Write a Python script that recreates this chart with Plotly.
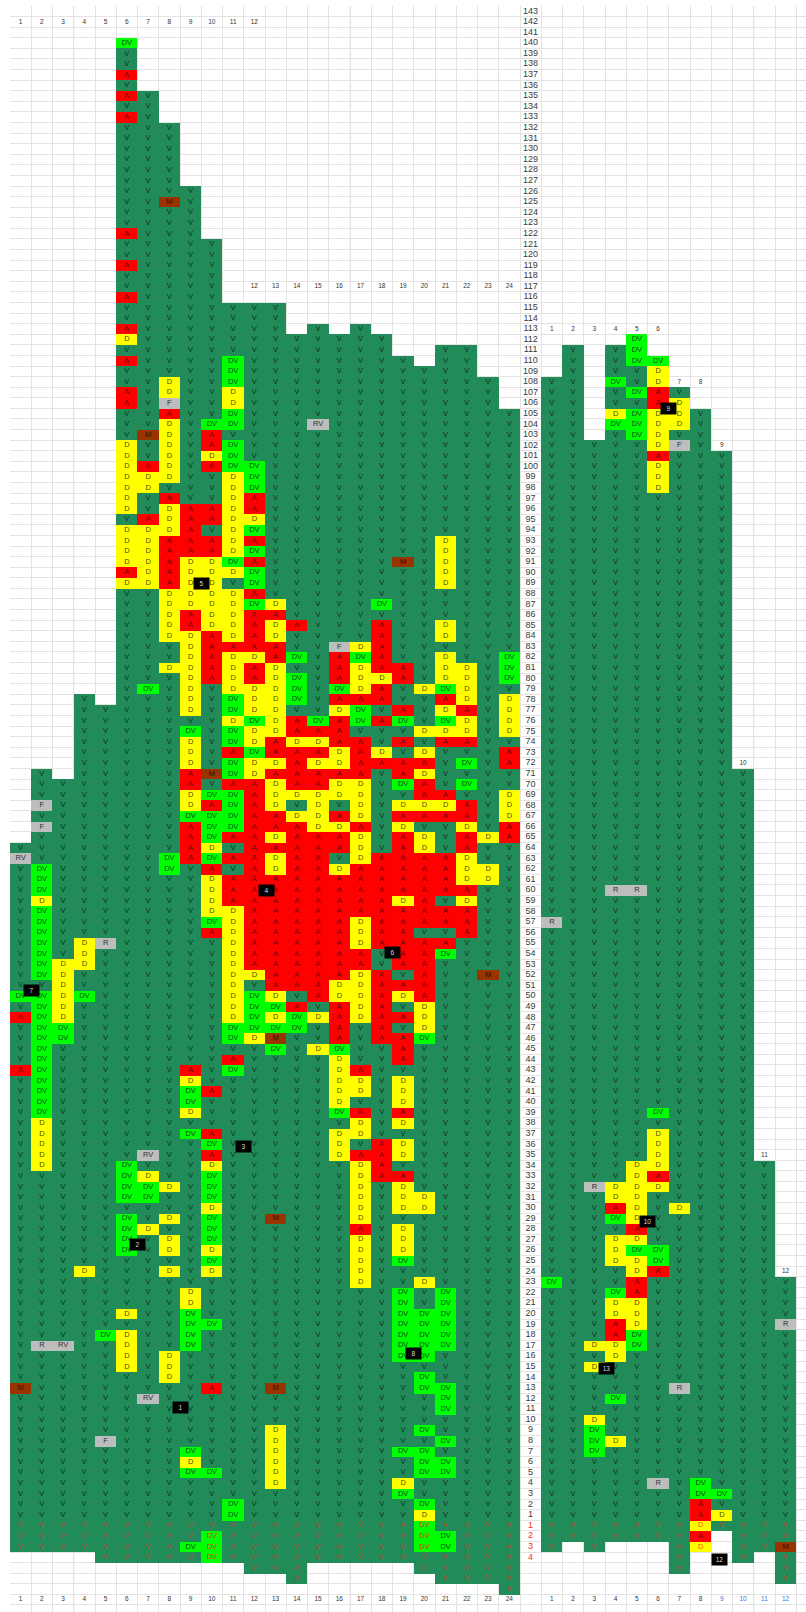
import re
import plotly.graph_objects as go

# ---- data: rows are the sheet's row numbers; negative rows are those printed in red below 1 ----
row_numbers = list(range(143, 0, -1)) + [-1, -2, -3, -4, -5, -6, -7]

left_tops = [64, 71, 70, 78, 77, 140, 135, 132, 126, 121, 115, 115, 115, 112, 113, 112, 113, 112, 110, 109, 111, 111, 108, 105]
left_bottoms = [-3, -3, -3, -3, -4, -4, -4, -4, -4, -4, -4, -5, -5, -6, -4, -4, -4, -4, -4, -5, -6, -6, -6, -7]
right_tops = [108, 111, 102, 111, 112, 110, 107, 105, 101, 71, 34, 23]
right_bottoms = [-3, -2, -3, -2, -2, -2, -5, -3, -1, -4, -3, -6]

left_cells = [
    "63RV 50DV 48A 43A 13M",
    "68F 66F 62..60DV 59D 58..52DV 50..39DV 38..34D 17R",
    "53..48D 47..46DV 17RV",
    "55..53D 50DV 24D",
    "55R 18DV 8F",
    "140DV 137A 135A 133A 122A 119A 116A 113A 112D 110A 107..106A 102..96D 94..91D 90A 89D 34..31DV 29..26DV 20D 18..15D",
    "103M 100A 99..98D 95A 94..89D 79DV 35RV 33D 32..31DV 28D 12RV",
    "125M 108..107D 106F 105A 104..99D 97A 96..94D 93..89A 88..84D 81D 63..62DV 32D 29D 27..26D 24D 16..14D",
    "96..92A 91..87D 86..85A 84..77D 75DV 74..72D 71..70A 69..68D 67DV 66..63A 43A 42D 41..40DV 39D 37DV 22..21D 20..17DV 7DV 6D 5DV -3DV",
    "104DV 103..102A 101D 100A 96..95A 93..92A 91..85D 84..80A 71M 69DV 68A 67..65DV 64D 63DV 62A 61..58D 57DV 56A 41A 37A 36DV 35A 34D 33..31DV 30D 29..27DV 26D 25DV 24D 19DV 13A 5DV -2..-4DV",
    "110..108DV 107..106D 105..104DV 102..100DV 99..92D 91DV 90D 88..84D 83A 82..79D 78..77DV 76D 75..74DV 73A 72..71DV 70A 69..66DV 65A 63A 61..59A 58..48D 47..46DV 44A 43DV 2..1DV",
    "100..98DV 97..96A 95D 94DV 93A 92DV 91A 90..89DV 88A 87DV 86..83A 82D 81..80A 79..77D 76DV 75..74D 73DV 72..71D 70..53A 52D 50..47DV 46D",
    "87D 86A 85..84D 83..82A 81..75D 74..73A 72D 71A 70..68D 67..66A 65D 64A 63..62D 61..51A 50D 49DV 48D 47DV 46M 45DV 29M 13M 9..4D",
    "85A 82DV 80..78DV 76..75A 74D 73..70A 69D 67D 66..51A 49A 48..47DV",
    "104RV 76DV 75A 74D 73A 72D 71..70A 69..66D 65..50A 48D 45D",
    "83F 82..80A 79DV 78A 77D 76..74A 73..72D 71A 70..69D 67A 66D 65..64A 62D 61..52A 51..50D 49..46A 45DV 44..40D 39DV 37..35D",
    "83D 82DV 81..79D 78A 77..76DV 74..71A 70..67D 66A 65..63D 62..58A 57..55D 54..53A 52..48D 43A 42..41D 39A 38..37D 35A 34..29D 28A 27..23D",
    "87DV 85..81A 80D 79..78A 76A 73D 72A 63..55A 52..46A 36..33A",
    "91M 81..80A 77A 76DV 74A 72..71A 70DV 68D 67A 66D 65..60A 59D 58..53A 51A 50D 48A 46..44A 42..40D 39A 38D 36..35D 33A 32..30D 28..26D 25DV 22..16DV 7DV 4D 3DV",
    "79D 75D 73D 72A 71D 70..69A 68D 67A 65..64D 63..57A 55..50A 49..47D 46DV 31..30D 23D 20..16DV 14..13DV 9DV 7..5DV 2DV 1D -1..-3DV",
    "93..89D 85..84D 82..80D 79DV 78A 77D 76DV 75D 74A 69A 68D 67A 63..60A 58..57A 55A 54DV 22..17DV 13..11DV 8DV 6..5DV -2..-3DV",
    "81..78D 77A 76..75D 74A 72DV 70DV 68A 67A 66D 65..64A 63..61D 60A 59D 58..56A",
    "65D 62..61D 52M",
    "82..80DV 78..75D 73..72A 69..67D 66..65A",
]
right_cells = [
    "57R 23DV",
    "",
    "32R 17D 15D 10D 9..7DV",
    "108DV 105D 104DV 60R 32..31D 30A 29DV 27..25D 22DV 21..20D 19..18A 17..16D 12DV 8D",
    "112..110DV 107DV 105..103DV 60R 34..29D 28A 27D 26DV 25..24D 23..22A 21..19D 18..17DV",
    "110DV 109..108D 107..106A 105..102D 101A 100..98D 39DV 37..34D 33A 32D 26..25DV 24A 4R",
    "106..104D 102F 30D 13R",
    "4..3DV 2..1A -1D -2A -3D",
    "3DV 1D",
    "",
    "",
    "19R -3M",
]

# column captions: (caption, sheet row it sits on)
left_captions = [(c, 142) for c in range(1, 13)] + [(c, 117) for c in range(12, 25)]
right_captions = [(c, 113) for c in range(1, 7)] + [(7, 108), (8, 108), (9, 102), (10, 72), (11, 35), (12, 24)]
blue_captions = [9, 10, 11, 12]

# numbered black flags (label, column position, row position on the grid)
flag_labels = ["1", "2", "3", "4", "5", "6", "7", "8", "9", "10", "12", "13"]
flag_cols = [7.5, 5.48, 10.51, 11.55, 8.49, 17.52, 0.535, 18.51, 30.5, 29.5, 32.9, 27.55]
flag_rows = [131.9, 116.5, 107.25, 83.0, 54.0, 88.9, 92.5, 126.8, 37.5, 114.3, 146.2, 128.2]

# ---- styles ----
CODES = ["V", "DV", "D", "A", "M", "GREY"]
FILL = ["#218c5a", "#00ff00", "#ffff00", "#ff0000", "#993300", "#bdbdbd"]
INK = {"V": "#0c2f1c", "DV": "#064a10", "D": "#4a4a00", "A": "#6e0404", "M": "#2e1000",
       "F": "#303030", "R": "#303030", "RV": "#303030"}
RED_V = "#c43c28"
RED_DV = "#c4451c"
RED_D = "#ff4a00"
PITCH_X, PITCH_Y = 21.25, 10.589
N_COLS, LABEL_COL = 37, 24


def row_index(n):
    return 143 - n if n > 0 else 142 - n


def parse(spec):
    out = {}
    for a, b, code in re.findall(r"(-?\d+)(?:\.\.(-?\d+))?([A-Z]+)", spec):
        a = int(a)
        b = int(b) if b else a
        step = -1 if b < a else 1
        for n in range(a, b + step, step):
            if n != 0:
                out[n] = code
    return out


columns = []
for c, (t, b, spec) in enumerate(zip(left_tops, left_bottoms, left_cells)):
    columns.append((c, t, b, parse(spec)))
for c, (t, b, spec) in enumerate(zip(right_tops, right_bottoms, right_cells)):
    columns.append((LABEL_COL + 1 + c, t, b, parse(spec)))

n_rows = 152
z = [[None] * N_COLS for _ in range(n_rows)]
tx, ty, tt, tc = [], [], [], []
black_dv_cols = {8, 20}
for col, top, bot, cells in columns:
    for n in row_numbers:
        if n > top or n < bot:
            continue
        code = cells.get(n, "V")
        i = row_index(n)
        z[i][col] = CODES.index(code) if code in CODES else CODES.index("GREY")
        ink = INK[code]
        if n < 0:
            if code == "V":
                ink = RED_V
            elif code == "DV" and col not in black_dv_cols:
                ink = RED_DV
            elif code == "D":
                ink = RED_D
        tx.append(col); ty.append(i); tt.append(code); tc.append(ink)

stops = []
for k, colr in enumerate(FILL):
    stops += [[k / len(FILL), colr], [(k + 1) / len(FILL), colr]]

fig = go.Figure()
fig.add_trace(go.Heatmap(x=list(range(N_COLS)), y=list(range(n_rows)), z=z, zmin=0, zmax=len(FILL),
                         colorscale=stops, showscale=False, hoverinfo="skip"))
fig.add_trace(go.Scatter(x=tx, y=ty, text=tt, mode="text", hoverinfo="skip",
                         textfont=dict(family="Liberation Sans", size=7.5, color=tc)))

# row labels in the middle column
lx, ly, lt, lc = [], [], [], []
for n in row_numbers:
    if n >= -4:
        lx.append(LABEL_COL); ly.append(row_index(n)); lt.append(str(abs(n)))
        lc.append("#ff2a2a" if n < 0 else "#3a3a3a")
fig.add_trace(go.Scatter(x=lx, y=ly, text=lt, mode="text", hoverinfo="skip",
                         textfont=dict(family="Liberation Sans", size=9, color=lc)))

# column captions
cx, cy, ct, cc = [], [], [], []
for c, n in left_captions:
    cx.append(c - 1); cy.append(row_index(n)); ct.append(str(c)); cc.append("#333333")
for c, n in right_captions:
    cx.append(LABEL_COL + c); cy.append(row_index(n)); ct.append(str(c)); cc.append("#333333")
for c in range(1, 25):
    cx.append(c - 1); cy.append(150); ct.append(str(c)); cc.append("#333333")
for c in range(1, 13):
    cx.append(LABEL_COL + c); cy.append(150); ct.append(str(c))
    cc.append("#3d6fe0" if c in blue_captions else "#333333")
fig.add_trace(go.Scatter(x=cx, y=cy, text=ct, mode="text", hoverinfo="skip",
                         textfont=dict(family="Liberation Sans", size=6.5, color=cc)))

for lab, fx, fy in zip(flag_labels, flag_cols, flag_rows):
    fig.add_annotation(x=fx, y=fy, text=lab, showarrow=False, bgcolor="#000000", width=15, height=11,
                       borderpad=0, font=dict(family="Liberation Sans", size=6.5, color="#dddddd"))

for b in [2.5, 15.5, 21.5, 34.5]:
    fig.add_shape(type="line", x0=b, x1=b, y0=-0.5, y1=151.16, layer="below",
                  line=dict(color="#e6f0e6", width=1.2))

grid = dict(showgrid=True, gridcolor="#e3e3e3", gridwidth=1.2, zeroline=False, showline=False,
            showticklabels=False, ticks="", tick0=-0.5, dtick=1)
fig.update_layout(
    width=806, height=1612, margin=dict(l=0, r=0, t=0, b=0), showlegend=False,
    paper_bgcolor="#ffffff", plot_bgcolor="#ffffff",
    xaxis=dict(domain=[10 / 806, 1], range=[-0.5, (806 - 10) / PITCH_X - 0.5], **grid),
    yaxis=dict(domain=[0, 1 - 6 / 1612], range=[(1612 - 11.3) / PITCH_Y, -0.5], **grid),
)
fig.write_html("out.html", post_script="document.body.style.margin='0';",
               config={"displayModeBar": False})
